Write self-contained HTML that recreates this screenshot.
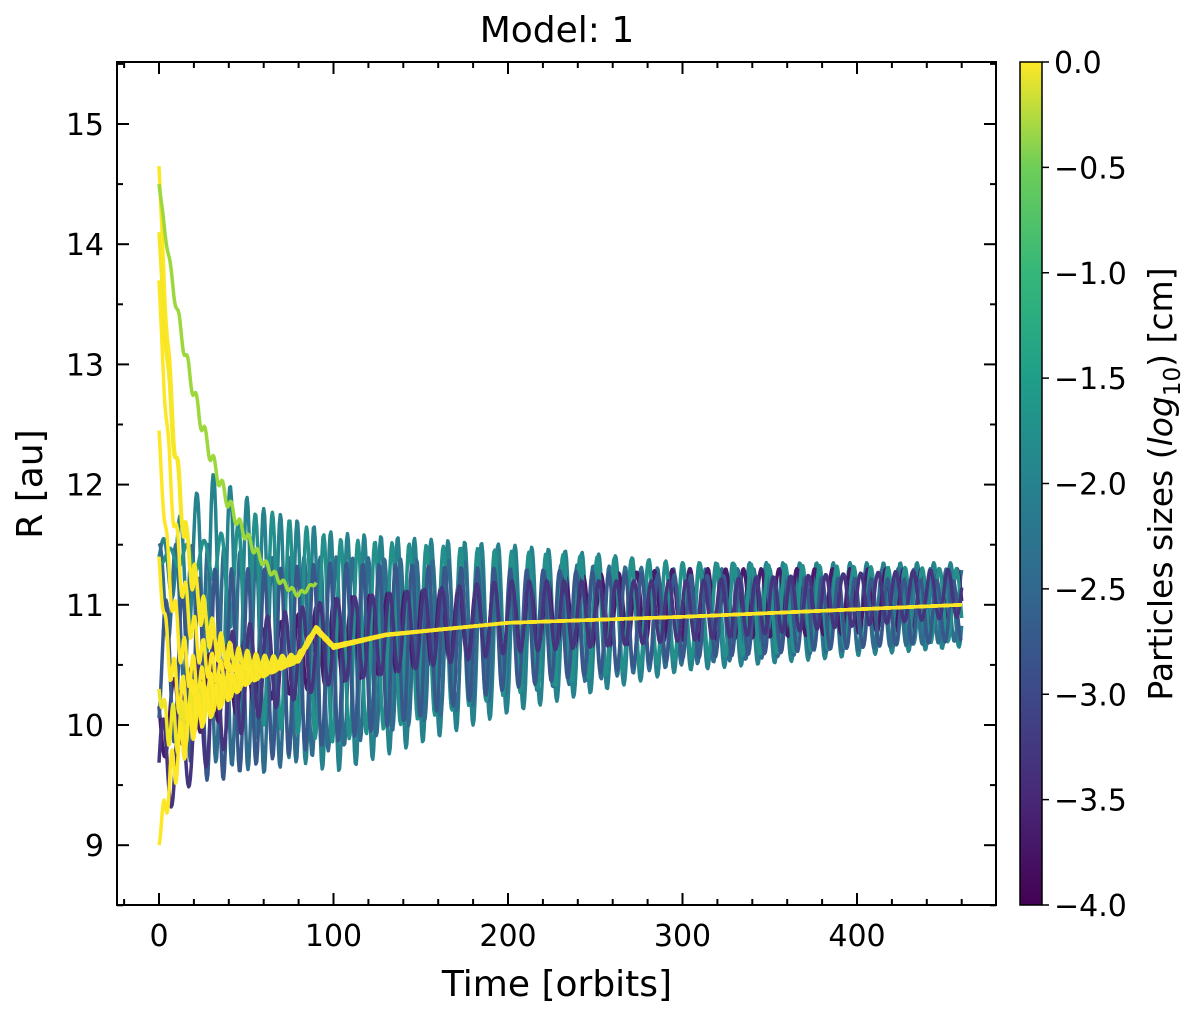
<!DOCTYPE html>
<html><head><meta charset="utf-8"><style>
body{margin:0;background:#fff;}
svg{display:block;font-family:"DejaVu Sans","Liberation Sans",sans-serif;}
</style></head><body>
<svg id="c" width="1200" height="1009">
<defs><linearGradient id="vir" x1="0" y1="1" x2="0" y2="0">
<stop offset="0" stop-color="#440154"/><stop offset="0.125" stop-color="#482878"/><stop offset="0.25" stop-color="#3e4989"/><stop offset="0.375" stop-color="#31688e"/><stop offset="0.5" stop-color="#26828e"/><stop offset="0.625" stop-color="#1f9e89"/><stop offset="0.75" stop-color="#35b779"/><stop offset="0.875" stop-color="#6ece58"/><stop offset="1" stop-color="#fde725"/></linearGradient></defs>
<text x="557" y="42" font-size="36" text-anchor="middle">Model: 1</text>
<g id="lines"></g>
<g id="axes"></g>
<text x="557" y="996" font-size="36" text-anchor="middle">Time [orbits]</text>
<text transform="translate(42,484) rotate(-90)" font-size="36" text-anchor="middle">R [au]</text>
<rect x="1020" y="62" width="22" height="843" fill="url(#vir)" stroke="#000" stroke-width="1.5"/>
<text transform="translate(1172,484) rotate(-90)" font-size="33" text-anchor="middle">Particles sizes (<tspan font-style="italic">log</tspan><tspan font-size="23" dy="8">10</tspan><tspan dy="-8">) [cm]</tspan></text>
</svg>
<script>
const xTicks=[0,100,200,300,400];
const yTicks=[9,10,11,12,13,14,15];
const cbTicks=[0,-0.5,-1,-1.5,-2,-2.5,-3,-3.5,-4];
// oscillating particles
const oscSizes=[-2.2,-2.6,-3.7,-2.0,-2.9,-3.4];
const oscStart=[11.4,11.2,10.0,11.4,10.5,9.6];
const envTimes=[0,30,60,100,200,300,460];
const oscAmp=[[0.1,0.9,1.0,1.0,0.7,0.45,0.35],[0.3,0.9,0.9,0.8,0.55,0.4,0.3],[0.3,0.3,0.3,0.35,0.3,0.3,0.25],[0.05,0.15,0.9,0.85,0.6,0.4,0.3],[0.5,0.9,0.8,0.75,0.5,0.35,0.25],[0.4,0.5,0.4,0.35,0.3,0.25,0.2]];
const oscMean=[[11.4,11.2,10.8,10.6,10.8,10.9,11.0],[11.2,10.6,10.5,10.6,10.8,10.9,11.0],[10.0,10.3,10.5,10.7,10.9,11.0,11.05],[11.4,11.4,10.9,10.7,10.85,10.95,11.0],[10.5,10.4,10.5,10.6,10.8,10.9,10.95],[9.6,10.2,10.5,10.7,10.9,10.95,11.1]];
const oscPeriod=[9.6,9.2,10.2,9.8,9.4,10.0];
// converging (large) particles
const bigSizes=[0,0,0,0,-0.1,0,-0.6,-0.05];
const bigStart=[14.65,13.7,12.45,11.4,10.3,9.0,14.5,14.1];
const bigDecay=[14,12,10,8,6,6,40,16];
const trackTimes=[0,20,50,80,90,100,130,200,300,460];
const trackR=[9.7,10.1,10.4,10.55,10.8,10.65,10.75,10.85,10.9,11.0];
const X0=159,XS=1.745,Y15=124,YS=120.2;
const xp=t=>X0+t*XS, yp=r=>Y15+(15-r)*YS;
const V=["#440154","#482878","#3e4989","#31688e","#26828e","#1f9e89","#35b779","#6ece58","#b5de2b","#fde725"];
function col(s){let f=(s+4)/4*(V.length-1);let i=Math.min(V.length-2,Math.floor(f));let u=f-i;
const a=V[i],b=V[i+1];const h=(c,k)=>parseInt(c.substr(1+2*k,2),16);
return "rgb("+[0,1,2].map(k=>Math.round(h(a,k)*(1-u)+h(b,k)*u)).join(",")+")";}
function interp(ts,vs,t){for(let i=0;i<ts.length-1;i++){if(t<=ts[i+1]){let u=(t-ts[i])/(ts[i+1]-ts[i]);return vs[i]+(vs[i+1]-vs[i])*u;}}return vs[vs.length-1];}
const NS="http://www.w3.org/2000/svg";
const g=document.getElementById('lines');
function addPath(d,c,w,name){const p=document.createElementNS(NS,'path');p.setAttribute('d',d);p.setAttribute('fill','none');p.setAttribute('stroke',c);p.setAttribute('stroke-width',w);p.setAttribute('stroke-linejoin','round');


g.appendChild(p);}
oscSizes.forEach((s,i)=>{let d="";for(let t=0;t<=460;t+=0.5){const m=interp(envTimes,oscMean[i],t),a=interp(envTimes,oscAmp[i],t);
const r=m+a*Math.sin(2*Math.PI*t/oscPeriod[i]+i*1.3);d+=(t?"L":"M")+xp(t).toFixed(1)+","+yp(r).toFixed(1);}addPath(d,col(s),3.5,'particle-line-'+i);});
bigSizes.forEach((s,i)=>{let d="";const tmax=i<6?460:90;for(let t=0;t<=tmax;t+=0.5){const m=interp(trackTimes,trackR,t);const e=Math.exp(-t/bigDecay[i]);
const r=m+(bigStart[i]-m)*e+0.35*Math.exp(-t/30)*(1-e)*Math.sin(2*Math.PI*t/5+i);d+=(t?"L":"M")+xp(t).toFixed(1)+","+yp(r).toFixed(1);}addPath(d,col(s),3.5,'large-particle-line-'+i);});
const ax=document.getElementById('axes');
let h='<rect x="117" y="62" width="879" height="843" fill="none" stroke="#000" stroke-width="2"/>';
for(let t=-20;t<=460;t+=20){const x=xp(t);if(x<118||x>995)continue;const L=t%100==0?12:6;h+=`<line x1="${x}" y1="905" x2="${x}" y2="${905-L}" stroke="#000" stroke-width="2"/><line x1="${x}" y1="62" x2="${x}" y2="${62+L}" stroke="#000" stroke-width="2"/>`;}
xTicks.forEach(t=>{h+=`<text x="${xp(t)}" y="946" font-size="30" text-anchor="middle">${t}</text>`;});
for(let r=8.5;r<=15.5;r+=0.5){const y=yp(r);const L=r%1==0?12:6;h+=`<line x1="117" y1="${y}" x2="${117+L}" y2="${y}" stroke="#000" stroke-width="2"/><line x1="996" y1="${y}" x2="${996-L}" y2="${y}" stroke="#000" stroke-width="2"/>`;}
yTicks.forEach(r=>{h+=`<text x="104" y="${yp(r)+11}" font-size="30" text-anchor="end">${r}</text>`;});
cbTicks.forEach(v=>{const y=62+(-v)/4*843;h+=`<line x1="1042" y1="${y}" x2="1049" y2="${y}" stroke="#000" stroke-width="1.5"/><text x="1054" y="${y+11}" font-size="30">${v==0?"0.0":"\u2212"+(-v).toFixed(1)}</text>`;});
ax.innerHTML=h;
</script>
</body></html>
